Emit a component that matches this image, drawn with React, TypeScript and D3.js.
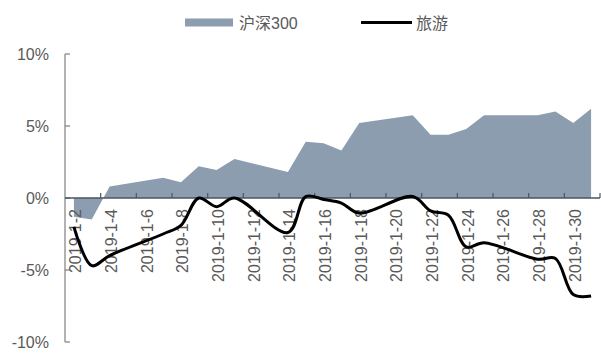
import React from "react";
import * as d3 from "d3";

// Trading days in January 2019 (day of month)
const tradingDays = [2, 3, 4, 7, 8, 9, 10, 11, 14, 15, 16, 17, 18, 21, 22, 23, 24, 25, 28, 29, 30, 31];

// Cumulative return (%) of the CSI 300 index
const hs300 = [-1.3, -1.5, 0.8, 1.4, 1.1, 2.2, 1.95, 2.7, 1.8, 3.9, 3.8, 3.3, 5.2, 5.75, 4.4, 4.4, 4.8, 5.75, 5.75, 6.0, 5.2, 6.2];

// Cumulative return (%) of the tourism sector
const tourism = [-2.0, -4.7, -4.0, -2.5, -1.9, 0.0, -0.6, 0.0, -2.4, 0.1, -0.1, -0.35, -1.05, 0.1, -0.9, -1.2, -3.4, -3.1, -4.25, -4.2, -6.7, -6.8];

// Axis ticks
const yTicks = [10, 5, 0, -5, -10];
const labelDays = [2, 4, 6, 8, 10, 12, 14, 16, 18, 20, 22, 24, 26, 28, 30];

const seriesNames = ["沪深300", "旅游"];

const W = 601;
const H = 353;
const FONT = "'Liberation Sans', Arial, 'Noto Sans CJK SC', sans-serif";
const TEXT = "#595959";
const AXIS = "#7f7f7f";
const AREA = "#8c9db0";

const day = (d: number, h = 0) => new Date(2019, 0, d, h);

export default function App() {
  const x = d3.scaleTime().domain([day(1, 12), day(31, 12)]).range([65, 600]);
  const y = d3.scaleLinear().domain([-10, 10]).range([342, 54]);

  const areaData = tradingDays.map((d, i) => ({ t: day(d), v: hs300[i] }));
  const lineData = tradingDays.map((d, i) => ({ t: day(d), v: tourism[i] }));

  const area = d3
    .area<{ t: Date; v: number }>()
    .x((p) => x(p.t))
    .y0(y(0))
    .y1((p) => y(p.v));

  const line = d3
    .line<{ t: Date; v: number }>()
    .x((p) => x(p.t))
    .y((p) => y(p.v))
    .curve(d3.curveCatmullRom.alpha(0.5));

  // Tick marks sit between every second day, labels on the days themselves
  const tickDates = d3.range(3, 32, 2).map((d) => day(d, 12));

  return (
    <svg
      width={W}
      height={H}
      style={{ position: "absolute", left: 0, top: 0, background: "#fff" }}
      fontFamily={FONT}
    >
      {/* legend */}
      <rect x={185} y={18.5} width={48} height={8} fill={AREA} />
      <text x={239} y={23} fontSize={16} fill={TEXT} dominantBaseline="central">
        {seriesNames[0]}
      </text>
      <line x1={361} x2={412} y1={22.5} y2={22.5} stroke="#000" strokeWidth={3} />
      <text x={416} y={23} fontSize={16} fill={TEXT} dominantBaseline="central">
        {seriesNames[1]}
      </text>

      {/* CSI 300 area */}
      <path d={area(areaData) ?? ""} fill={AREA} />

      {/* y axis */}
      <line x1={65} x2={65} y1={y(10)} y2={y(-10)} stroke={AXIS} strokeWidth={1.2} />
      {yTicks.map((t) => (
        <g key={t}>
          <line x1={65} x2={70} y1={y(t)} y2={y(t)} stroke={AXIS} strokeWidth={1.2} />
          <text
            x={49}
            y={y(t)}
            fontSize={16}
            fill={TEXT}
            textAnchor="end"
            dominantBaseline="central"
          >
            {`${t}%`}
          </text>
        </g>
      ))}

      {/* x axis at zero */}
      <line x1={65} x2={600} y1={y(0)} y2={y(0)} stroke="#4d5560" strokeWidth={1.3} />
      {tickDates.map((t, i) => (
        <line key={i} x1={x(t)} x2={x(t)} y1={y(0)} y2={y(0) - 5} stroke="#4d5560" strokeWidth={1.2} />
      ))}
      {labelDays.map((d) => {
        const px = x(day(d)) + 2;
        const py = 209;
        return (
          <text
            key={d}
            transform={`translate(${px},${py}) rotate(-90)`}
            fontSize={16}
            fill={TEXT}
            textAnchor="end"
            dominantBaseline="central"
          >
            {`2019-1-${d}`}
          </text>
        );
      })}

      {/* tourism line */}
      <path d={line(lineData) ?? ""} fill="none" stroke="#000" strokeWidth={3} strokeLinejoin="round" />
    </svg>
  );
}
